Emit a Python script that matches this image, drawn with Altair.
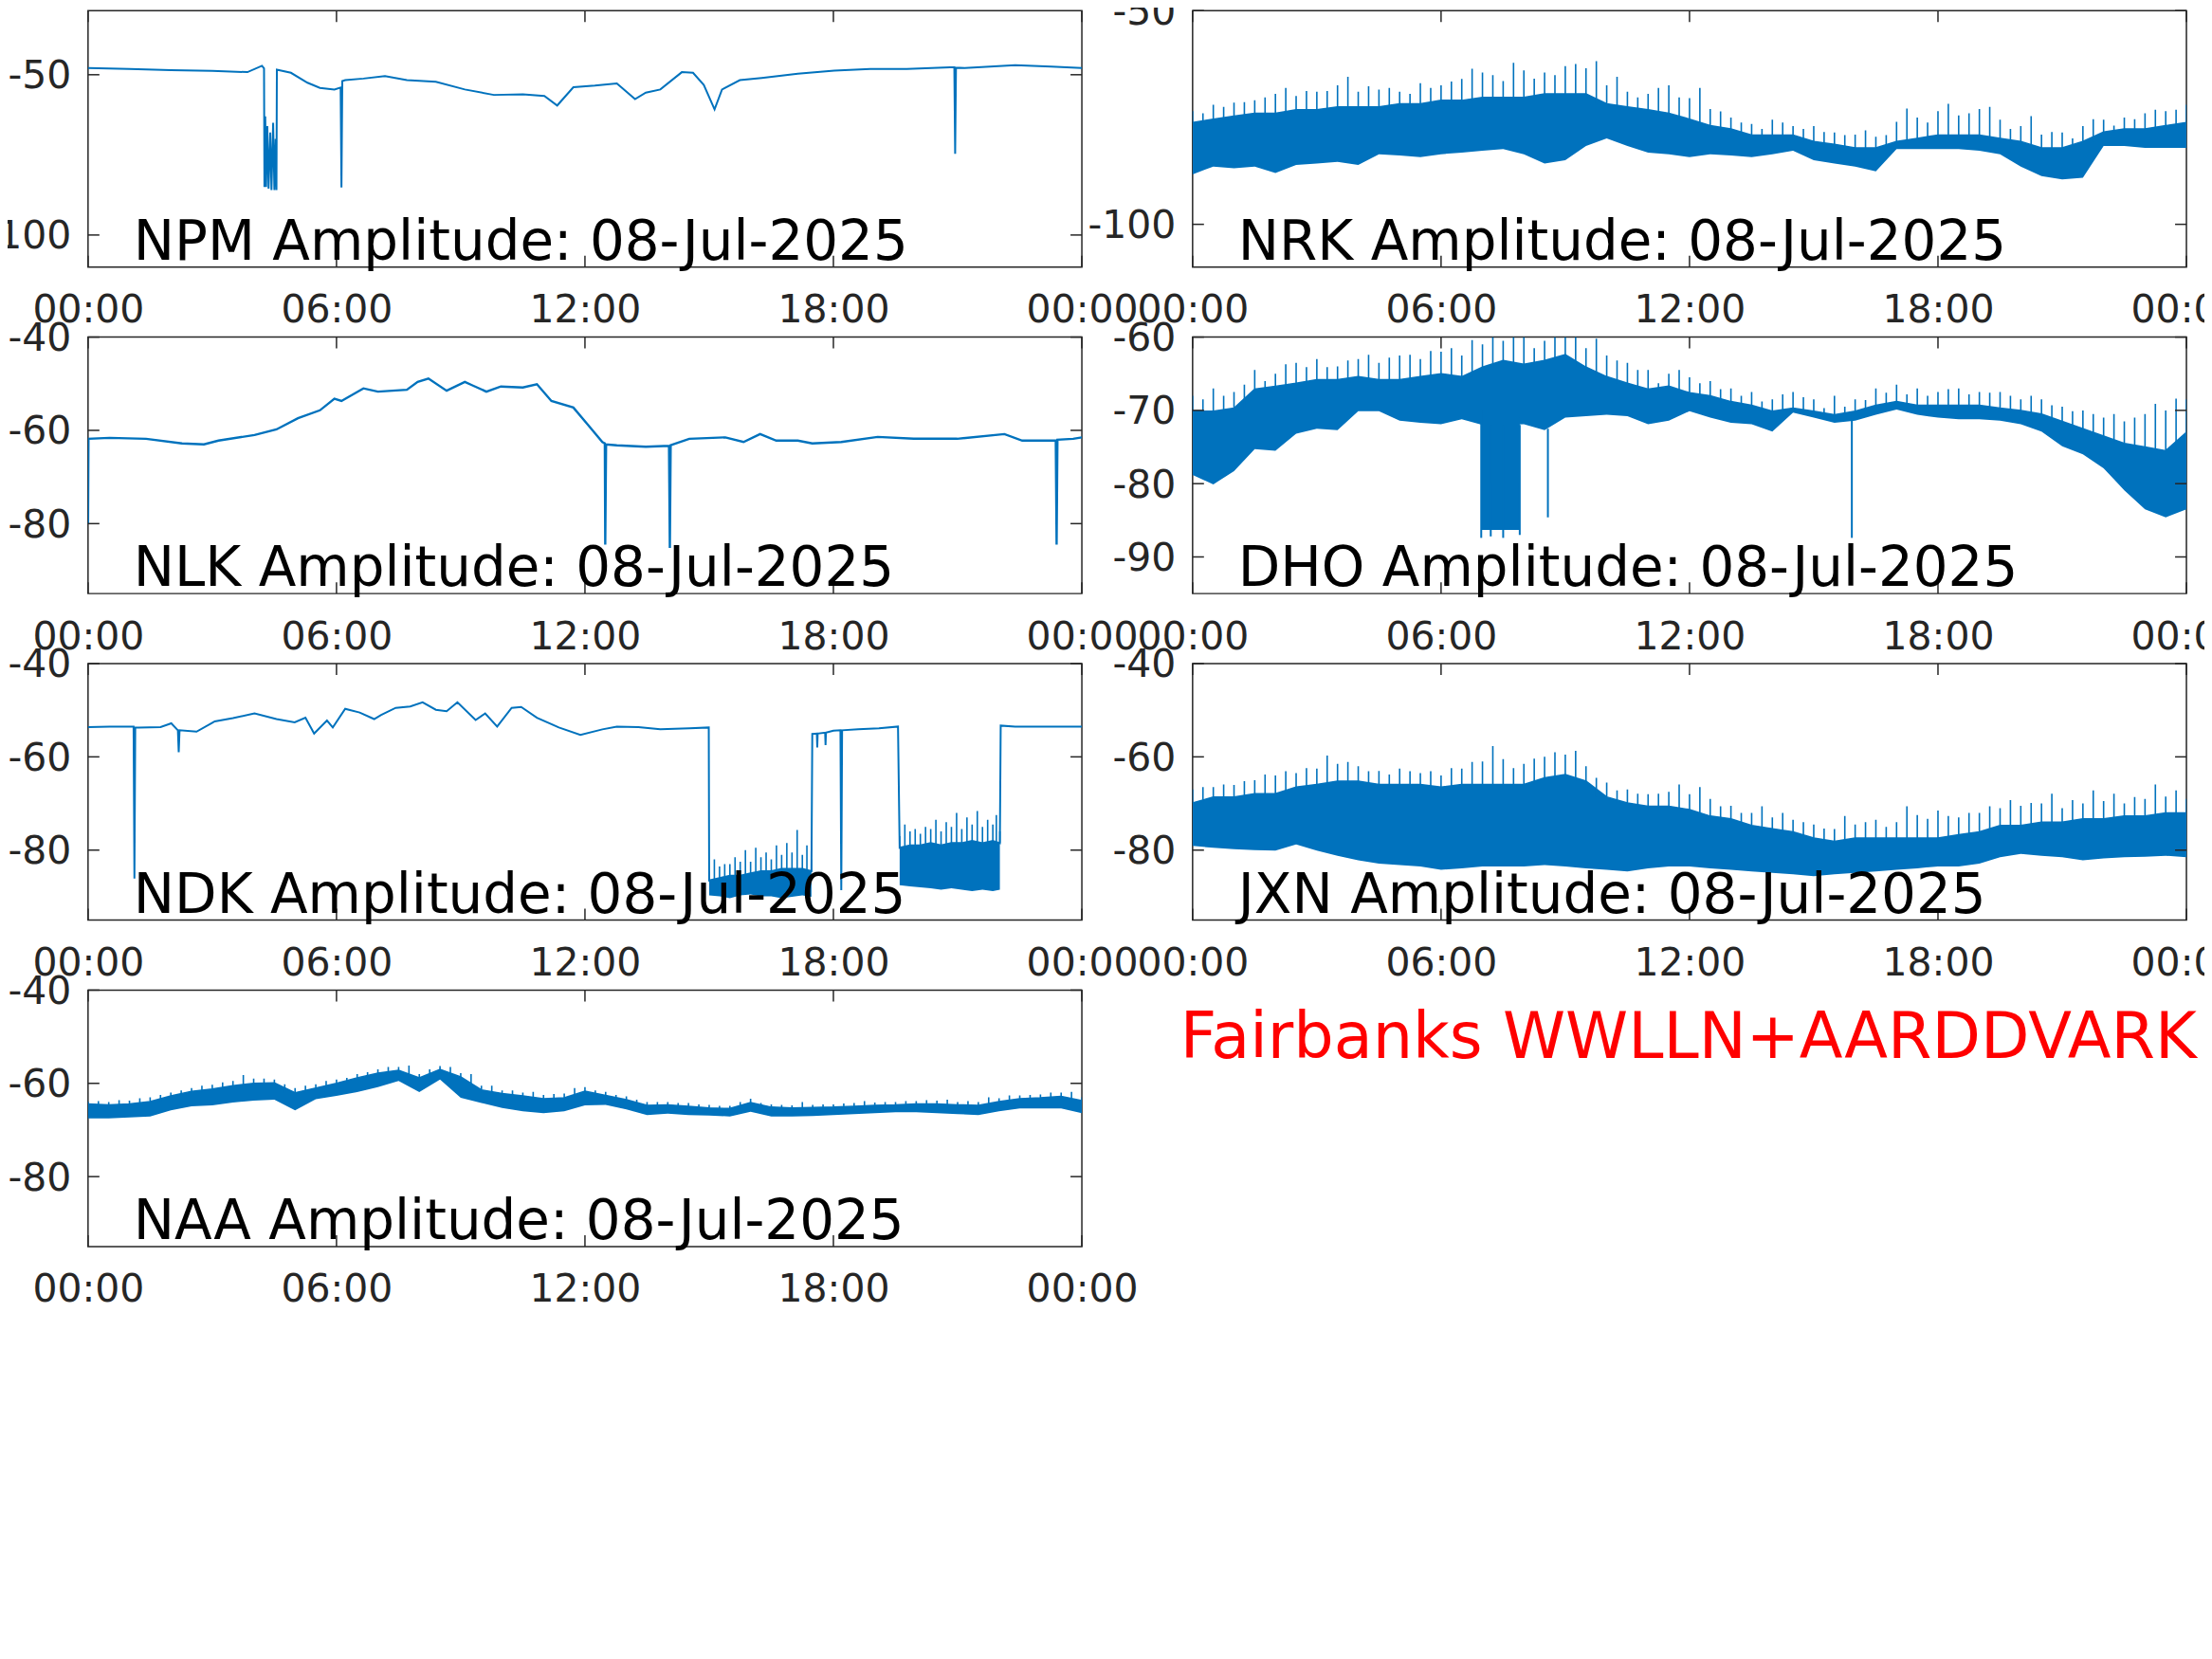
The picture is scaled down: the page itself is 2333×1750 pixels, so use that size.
import altair as alt
import pandas as pd

BLUE = "#0072BD"
INK = "#262626"
FONT = "DejaVu Sans"
W, H = 1050, 271
TICK = 12

tick_hours = [0, 6, 12, 18, 24]
tick_labels = ["00:00", "06:00", "12:00", "18:00", "00:00"]
date_text = "08-Jul-2025"
site_text = "Fairbanks WWLLN+AARDDVARK"

grid_hours = [i / 2 for i in range(49)]

# ---------------- NPM (line) ----------------
npm_ydomain = [-110, -30]
npm_yticks = [-100, -50]
npm_hours = [0, 1, 2, 3, 3.85, 4.2, 4.25, 4.26, 4.28, 4.30, 4.33, 4.36, 4.40, 4.43, 4.47, 4.50,
             4.53, 4.55, 4.56, 4.9, 5.3, 5.6, 5.95, 6.10, 6.12, 6.14, 6.21, 6.65, 7.17, 7.7, 8.4,
             9.1, 9.8, 10.5, 11.02, 11.33, 11.72, 12.24, 12.77, 13.21, 13.47, 13.82, 14.34, 14.61,
             14.87, 15.13, 15.31, 15.74, 16.27, 17.14, 18.02, 18.89, 19.77, 20.82, 20.92, 20.94,
             20.96, 21.17, 22.39, 23.26, 24]
npm_db = [-47.9, -48.2, -48.6, -48.8, -49.2, -47.2, -48.0, -85.0, -63.0, -85.0, -66.0, -85.5,
          -68.0, -86.0, -65.0, -86.0, -70.0, -86.0, -48.4, -49.4, -52.5, -54.1, -54.6, -54.0,
          -85.2, -52.0, -51.7, -51.2, -50.4, -51.7, -52.2, -54.6, -56.3, -56.1, -56.6, -59.6,
          -53.9, -53.4, -52.7, -57.6, -55.6, -54.6, -49.2, -49.4, -53.2, -60.8, -54.6, -51.7,
          -51.0, -49.7, -48.7, -48.2, -48.2, -47.7, -47.7, -74.7, -47.8, -47.9, -47.0, -47.5, -47.9]

# ---------------- NRK (noisy band) ----------------
nrk_ydomain = [-110, -50]
nrk_yticks = [-100, -50]
nrk_low = [-88.3, -86.5, -86.9, -86.5, -88.0, -86.1, -85.8, -85.4, -86.1, -83.6,
           -83.9, -84.3, -83.6, -83.2, -82.8, -82.4, -83.6, -85.8, -85.0, -81.7,
           -79.9, -81.7, -83.2, -83.6, -84.3, -83.6, -83.9, -84.3, -83.6, -82.8,
           -85.0, -85.8, -86.5, -87.6, -82.4, -82.4, -82.4, -82.4, -82.8, -83.6,
           -86.5, -88.7, -89.5, -89.1, -81.7, -81.7, -82.1, -82.1, -82.1]
nrk_core = [-76.2, -75.4, -74.7, -74.0, -74.0, -73.2, -73.2, -72.5, -72.5, -72.5,
            -71.8, -71.8, -71.0, -71.0, -70.3, -70.3, -70.3, -69.5, -69.5, -69.5,
            -71.8, -72.5, -73.2, -74.0, -75.4, -76.9, -77.7, -79.1, -79.1, -79.1,
            -80.6, -81.3, -82.1, -82.1, -80.6, -79.9, -79.1, -79.1, -79.1, -79.9,
            -80.6, -82.1, -82.1, -80.6, -78.4, -77.7, -77.7, -76.9, -76.2]
nrk_peak = [-74.0, -72.5, -71.4, -70.3, -68.1, -68.8, -68.8, -65.5, -67.7, -68.1,
            -69.5, -68.1, -66.6, -63.6, -65.1, -62.2, -65.9, -65.1, -62.5, -61.8,
            -65.5, -70.3, -68.1, -70.3, -68.1, -73.6, -76.2, -77.7, -76.2, -77.7,
            -78.4, -79.1, -78.0, -79.1, -72.9, -76.2, -71.8, -74.0, -72.5, -77.7,
            -74.7, -78.4, -79.9, -75.4, -76.9, -75.4, -73.2, -73.2]
nrk_peak2 = [-73.5, -72.0, -71.5, -71.0, -69.5, -70.0, -69.0, -67.5, -69.0, -68.5,
             -69.0, -67.0, -67.5, -66.0, -64.5, -66.5, -64.0, -64.5, -63.0, -63.5,
             -67.5, -69.0, -69.5, -67.5, -70.5, -73.0, -75.0, -76.5, -75.5, -77.0,
             -77.0, -78.5, -79.0, -79.5, -76.0, -75.0, -73.5, -74.5, -73.0, -75.5,
             -77.0, -79.0, -78.5, -77.0, -75.5, -75.0, -74.0, -73.5, -72.0]

# ---------------- NLK (line) ----------------
nlk_ydomain = [-95, -40]
nlk_yticks = [-80, -60, -40]
nlk_hours = [0, 0.01, 0.52, 1.4, 2.27, 2.8, 3.15, 4.02, 4.55, 5.07,
             5.6, 5.95, 6.12, 6.65, 7.0, 7.7, 7.96, 8.22, 8.66, 9.1,
             9.27, 9.62, 9.97, 10.5, 10.84, 11.19, 11.72, 12.07, 12.42, 12.48,
             12.49, 12.51, 12.77, 13.47, 14.03, 14.05, 14.07, 14.52, 15.39, 15.83,
             16.23, 16.62, 17.14, 17.49, 18.19, 19.07, 19.94, 20.99, 22.13, 22.56,
             23.35, 23.37, 23.39, 23.41, 23.79, 24]
nlk_db = [-80.1, -61.8, -61.6, -61.8, -62.8, -63.0, -62.2, -61.0, -59.8, -57.4,
          -55.7, -53.2, -53.7, -51.0, -51.7, -51.3, -49.6, -48.9, -51.5, -49.6,
          -50.3, -51.7, -50.6, -50.8, -50.1, -53.7, -55.1, -58.8, -62.5, -62.8,
          -84.5, -63.0, -63.2, -63.5, -63.3, -85.2, -63.2, -61.8, -61.5, -62.5,
          -60.8, -62.2, -62.2, -62.8, -62.5, -61.4, -61.8, -61.8, -60.8, -62.2,
          -62.2, -62.2, -84.5, -62.0, -61.8, -61.5]

# ---------------- DHO (noisy band) ----------------
dho_ydomain = [-95, -60]
dho_yticks = [-90, -80, -70, -60]
dho_low = [-78.8, -80.1, -78.3, -75.3, -75.5, -73.2, -72.5, -72.7, -70.1, -70.1,
           -71.4, -71.7, -71.9, -71.2, -72.0, -72.0, -71.9, -72.7, -71.0, -70.8,
           -70.6, -70.8, -71.9, -71.4, -70.1, -71.0, -71.7, -71.9, -72.9, -70.3,
           -71.0, -71.7, -71.4, -70.6, -69.9, -70.6, -71.0, -71.2, -71.2, -71.4,
           -71.9, -72.9, -74.9, -76.0, -77.9, -80.9, -83.5, -84.6, -83.5]
dho_core = [-70.1, -70.1, -69.7, -67.1, -66.7, -66.3, -65.8, -65.8, -65.4, -65.8,
            -65.8, -65.4, -65.0, -65.4, -64.1, -63.2, -63.7, -63.2, -62.4, -64.1,
            -65.4, -66.3, -67.1, -66.7, -67.6, -68.0, -68.8, -69.3, -70.1, -69.7,
            -70.1, -70.6, -70.1, -69.3, -68.8, -69.3, -69.3, -69.3, -69.3, -69.7,
            -70.0, -70.5, -71.5, -72.5, -73.5, -74.5, -75.0, -75.5, -73.0]
dho_peak = [-68.5, -68.0, -66.5, -66.0, -63.7, -64.1, -64.1, -63.2, -62.4, -62.8,
            -62.4, -61.9, -61.5, -60.4, -60.0, -60.0, -61.5, -60.0, -60.0, -60.2,
            -63.2, -64.5, -66.3, -64.5, -66.3, -67.1, -68.0, -68.8, -67.8, -68.2,
            -69.7, -69.5, -68.6, -67.6, -67.8, -68.0, -67.1, -67.8, -67.6, -68.0,
            -68.0, -69.3, -70.1, -70.5, -70.5, -71.0, -69.1, -68.4]
dho_peak2 = [-68.0, -67.0, -67.5, -64.5, -65.0, -63.5, -63.0, -64.0, -63.0, -63.5,
             -62.5, -63.0, -62.0, -62.5, -61.0, -60.5, -60.0, -60.5, -60.0, -61.5,
             -62.5, -63.5, -64.5, -65.0, -65.5, -66.0, -67.0, -67.5, -68.5, -67.5,
             -68.5, -68.0, -68.5, -67.0, -66.5, -67.0, -67.5, -67.0, -67.5, -67.5,
             -68.5, -68.5, -69.5, -70.0, -71.0, -71.5, -70.5, -70.0, -68.5]
dho_drop_hours = [6.97, 7.2, 7.5, 7.9, 8.58, 15.92]
dho_drop_top = [-70.0, -72.0, -72.0, -72.0, -72.5, -70.5]
dho_drop_bottom = [-87.4, -87.2, -87.4, -87.0, -84.6, -87.4]
dho_block_start = [6.97]
dho_block_end = [7.90]
dho_block_top = [-71.0]
dho_block_bottom = [-86.3]

# ---------------- NDK (line with two noisy low segments) ----------------
ndk_ydomain = [-95, -40]
ndk_yticks = [-80, -60, -40]
ndk_hours_a = [0, 0.52, 1.10, 1.12, 1.14, 1.22, 1.75, 2.01, 2.17, 2.19,
               2.21, 2.62, 3.06, 3.5, 4.02, 4.55, 4.99, 5.25, 5.46, 5.77,
               5.91, 6.21, 6.56, 6.91, 7.08, 7.43, 7.78, 8.08, 8.4, 8.66,
               8.92, 9.36, 9.59, 9.88, 10.23, 10.46, 10.84, 11.37, 11.89, 12.42,
               12.77, 13.29, 13.82, 14.52, 14.99]
ndk_db_a = [-53.6, -53.5, -53.5, -86.1, -53.7, -53.7, -53.6, -52.8, -54.3, -59.0,
            -54.3, -54.6, -52.4, -51.7, -50.7, -51.9, -52.6, -51.6, -55.0, -52.2,
            -53.7, -49.7, -50.5, -51.9, -51.0, -49.5, -49.2, -48.3, -49.9, -50.2,
            -48.3, -52.1, -50.7, -53.5, -49.5, -49.3, -51.6, -53.7, -55.3, -54.1,
            -53.5, -53.6, -54.1, -53.9, -53.7]
ndk_b1_hours = [15.0, 15.25, 15.5, 15.75, 16.0, 16.25, 16.5, 16.75, 17.0, 17.25, 17.47]
ndk_b1_low = [-89.7, -89.9, -90.3, -89.7, -89.5, -89.9, -89.9, -90.3, -90.0, -89.7, -90.0]
ndk_b1_core = [-86.5, -86.0, -85.5, -85.5, -85.0, -84.5, -84.5, -84.0, -84.0, -84.0, -84.5]
ndk_b1_peak = [-82.0, -83.0, -81.5, -80.0, -79.5, -80.5, -79.0, -78.5, -75.7, -79.0]
ndk_b1_peak2 = [-84.5, -83.5, -83.0, -82.5, -82.5, -81.5, -82.0, -81.0, -80.5, -81.0, -82.0]
ndk_hours_b = [17.49, 17.6, 17.61, 17.62, 17.8, 17.81, 17.82, 18.0, 18.17, 18.19, 18.21, 18.6, 19.1, 19.56]
ndk_db_b = [-55.1, -55.0, -58.0, -55.0, -54.8, -57.5, -54.8, -54.4, -54.3, -88.6, -54.3, -54.1, -53.9, -53.5]
ndk_b2_hours = [19.6, 19.85, 20.1, 20.35, 20.6, 20.85, 21.1, 21.35, 21.6, 21.85, 22.02]
ndk_b2_low = [-87.5, -87.8, -88.0, -88.2, -88.5, -88.2, -88.5, -88.8, -88.5, -88.8, -88.5]
ndk_b2_core = [-79.5, -79.0, -79.0, -78.5, -79.0, -78.5, -78.5, -78.0, -78.5, -78.0, -78.5]
ndk_b2_peak = [-74.5, -75.5, -75.0, -73.5, -74.0, -72.0, -73.0, -71.6, -73.5, -72.5]
ndk_b2_peak2 = [-77.0, -76.0, -76.5, -75.5, -76.0, -75.0, -75.5, -74.5, -75.0, -74.5, -76.0]
ndk_hours_c = [22.04, 22.39, 23.26, 24]
ndk_db_c = [-53.3, -53.5, -53.5, -53.5]

# ---------------- JXN (noisy band) ----------------
jxn_ydomain = [-95, -40]
jxn_yticks = [-80, -60, -40]
jxn_low = [-79.1, -79.5, -79.8, -80.0, -80.1, -78.8, -80.1, -81.2, -82.2, -82.9,
           -83.2, -83.5, -84.2, -83.9, -83.5, -83.5, -83.5, -83.2, -83.5, -83.9,
           -84.2, -84.6, -83.9, -83.5, -83.5, -83.9, -84.2, -84.6, -84.9, -85.2,
           -85.6, -85.2, -84.9, -84.6, -84.2, -83.9, -83.5, -83.5, -82.9, -81.5,
           -80.8, -81.2, -81.5, -82.2, -81.8, -81.5, -81.4, -81.2, -81.5]
jxn_core = [-69.9, -68.6, -68.6, -67.9, -67.9, -66.5, -65.9, -65.2, -65.2, -65.9,
            -65.9, -65.9, -66.5, -65.9, -65.9, -65.9, -65.9, -64.5, -63.8, -65.2,
            -68.6, -69.9, -70.6, -70.6, -71.3, -72.7, -73.3, -74.7, -75.4, -76.1,
            -77.4, -78.1, -77.4, -77.4, -77.4, -77.4, -77.4, -76.7, -76.1, -74.7,
            -74.7, -74.0, -74.0, -73.3, -73.3, -72.7, -72.7, -72.0, -72.0]
jxn_peak = [-66.5, -65.9, -65.2, -63.8, -63.1, -62.4, -59.7, -61.1, -63.1, -63.8,
            -63.1, -63.1, -62.4, -61.1, -57.7, -62.4, -60.4, -59.0, -58.7, -64.5,
            -67.2, -67.9, -67.9, -65.9, -66.5, -70.6, -72.0, -70.6, -72.0, -74.0,
            -75.4, -72.7, -74.0, -75.0, -70.6, -73.3, -72.7, -72.0, -70.6, -69.3,
            -69.9, -67.9, -69.3, -67.2, -67.9, -68.6, -65.9, -67.2]
jxn_peak2 = [-67.0, -66.5, -66.0, -65.0, -64.0, -63.5, -62.5, -61.5, -62.0, -63.0,
             -62.5, -63.5, -64.0, -62.5, -61.0, -60.5, -61.5, -60.0, -59.5, -62.0,
             -65.5, -67.0, -68.0, -67.5, -68.0, -69.0, -70.5, -72.0, -73.0, -73.5,
             -74.5, -75.5, -74.5, -73.5, -74.0, -72.5, -71.5, -73.0, -72.0, -71.0,
             -70.5, -70.0, -71.0, -70.0, -69.5, -70.0, -69.0, -68.5, -69.0]

# ---------------- NAA (thick noisy line) ----------------
naa_ydomain = [-95, -40]
naa_yticks = [-80, -60, -40]
naa_upper = [-64.4, -64.6, -64.4, -63.9, -62.7, -61.7, -61.2, -60.5, -60.0, -59.9,
             -62.0, -61.0, -60.0, -58.8, -57.8, -57.2, -58.8, -57.0, -58.6, -61.4,
             -62.2, -62.7, -63.3, -63.1, -61.7, -62.6, -63.5, -64.7, -64.6, -64.9,
             -65.3, -65.4, -64.1, -65.1, -65.3, -65.2, -65.1, -64.9, -64.7, -64.6,
             -64.4, -64.4, -64.6, -64.7, -63.9, -63.3, -63.1, -62.8, -63.7]
naa_lower = [-67.5, -67.5, -67.3, -67.1, -65.8, -64.9, -64.7, -64.1, -63.7, -63.5,
             -65.8, -63.4, -62.7, -61.9, -60.8, -59.5, -61.9, -59.2, -63.1, -64.2,
             -65.3, -66.0, -66.4, -66.0, -64.7, -64.6, -65.6, -66.8, -66.5, -66.8,
             -66.9, -67.1, -66.1, -67.1, -67.1, -67.0, -66.8, -66.6, -66.4, -66.2,
             -66.2, -66.4, -66.6, -66.8, -66.0, -65.4, -65.4, -65.4, -66.4]
naa_peak = [-63.8, -63.6, -63.2, -62.5, -61.5, -60.5, -59.8, -58.2, -59.0, -60.2,
            -60.5, -59.5, -58.8, -57.6, -56.5, -56.2, -57.0, -56.5, -58.0, -60.5,
            -61.5, -61.8, -62.3, -61.0, -61.5, -62.5, -63.5, -64.0, -64.2, -64.5,
            -64.8, -64.0, -64.2, -64.6, -64.0, -64.5, -64.3, -63.8, -64.0, -63.8,
            -63.6, -63.5, -63.8, -63.0, -62.6, -62.5, -62.0, -61.8]
naa_peak2 = [-63.9, -64.0, -63.7, -63.0, -62.0, -61.0, -60.3, -59.5, -59.0, -59.2,
             -61.0, -60.2, -59.2, -58.0, -57.0, -56.5, -58.0, -56.3, -57.8, -60.5,
             -61.5, -62.0, -62.5, -62.2, -60.8, -61.8, -62.8, -64.0, -64.0, -64.2,
             -64.6, -64.8, -63.3, -64.5, -64.7, -64.6, -64.5, -64.2, -64.1, -64.0,
             -63.8, -63.7, -64.0, -64.0, -63.2, -62.6, -62.4, -62.0, -63.0]

# ====================== helpers ======================
XSCALE = alt.Scale(domain=[0, 24], nice=False, zero=False)
LABEL_EXPR = ("[" + ",".join(f"'{s}'" for s in tick_labels) + "][indexof(["
              + ",".join(str(h) for h in tick_hours) + "], datum.value)]")


def x_enc(field):
    return alt.X(f"{field}:Q", scale=XSCALE, axis=alt.Axis(
        values=tick_hours, labelExpr=LABEL_EXPR, title=None, grid=False, ticks=False,
        tickSize=0, domain=False, labelPadding=26, labelFlush=False, labelAngle=0,
        labelFont=FONT, labelFontSize=41, labelColor=INK))


def y_enc(field, dom, ticks):
    return alt.Y(f"{field}:Q", scale=alt.Scale(domain=dom, nice=False, zero=False),
                 axis=alt.Axis(values=ticks, labelExpr="'' + datum.value", title=None,
                               grid=False, ticks=False, tickSize=0, domain=False,
                               labelPadding=18, labelOffset=2, labelFlush=False,
                               labelFont=FONT, labelFontSize=41, labelColor=INK))


def line_layer(hours, vals, dom, yt, width=2.0):
    df = pd.DataFrame({"h": hours, "v": vals})
    return alt.Chart(df).mark_line(color=BLUE, strokeWidth=width, clip=True).encode(
        x=x_enc("h"), y=y_enc("v", dom, yt))


def area_layer(hours, low, top, dom, yt):
    df = pd.DataFrame({"h": hours, "lo": low, "hi": top})
    return alt.Chart(df).mark_area(color=BLUE, opacity=1, clip=True).encode(
        x=x_enc("h"), y=y_enc("lo", dom, yt), y2=alt.Y2("hi:Q"))


def rule_layer(hours, lo, hi, dom, yt, width=1.6):
    df = pd.DataFrame({"h": hours, "lo": lo, "hi": hi})
    return alt.Chart(df).mark_rule(color=BLUE, strokeWidth=width, clip=True).encode(
        x=x_enc("h"), y=y_enc("lo", dom, yt), y2=alt.Y2("hi:Q"))


def spike_layer(hours, base, peaks, dom, yt):
    # spikes half-way between samples, rising from the band's top
    mid = [(hours[i] + hours[i + 1]) / 2 for i in range(len(peaks))]
    foot = [min(base[i], base[i + 1]) for i in range(len(peaks))]
    return rule_layer(mid, foot, peaks, dom, yt)


def block_layer(h0, h1, top, bottom, dom, yt):
    df = pd.DataFrame({"h0": h0, "h1": h1, "lo": bottom, "hi": top})
    return alt.Chart(df).mark_rect(color=BLUE, clip=True).encode(
        x=x_enc("h0"), x2=alt.X2("h1:Q"), y=y_enc("lo", dom, yt), y2=alt.Y2("hi:Q"))


def panel(name, dom, yticks, layers):
    xt = pd.DataFrame({"h": tick_hours})
    yt = pd.DataFrame({"v": yticks})
    rule = dict(color=INK, strokeWidth=1.5)
    ticks = [
        alt.Chart(xt).mark_rule(**rule).encode(x=x_enc("h"), y=alt.value(0), y2=alt.value(TICK)),
        alt.Chart(xt).mark_rule(**rule).encode(x=x_enc("h"), y=alt.value(H - TICK), y2=alt.value(H)),
        alt.Chart(yt).mark_rule(**rule).encode(y=y_enc("v", dom, yticks), x=alt.value(0), x2=alt.value(TICK)),
        alt.Chart(yt).mark_rule(**rule).encode(y=y_enc("v", dom, yticks), x=alt.value(W - TICK), x2=alt.value(W)),
    ]
    label = alt.Chart(pd.DataFrame({"t": [f"{name} Amplitude: {date_text}"]})).mark_text(
        align="left", baseline="alphabetic", font=FONT, fontSize=58, color="black"
    ).encode(x=alt.value(48), y=alt.value(H - 8), text="t:N")
    return alt.layer(*layers, *ticks, label).properties(width=W, height=H)


def band_layers(hours, low, core, peak, peak2, dom, yt):
    return [area_layer(hours, low, core, dom, yt),
            line_layer(hours, core, dom, yt, width=1.5),
            rule_layer(hours, core, peak2, dom, yt),
            spike_layer(hours, core, peak, dom, yt)]


# ====================== panels ======================
npm = panel("NPM", npm_ydomain, npm_yticks,
            [line_layer(npm_hours, npm_db, npm_ydomain, npm_yticks)])

nrk = panel("NRK", nrk_ydomain, nrk_yticks,
            band_layers(grid_hours, nrk_low, nrk_core, nrk_peak, nrk_peak2,
                        nrk_ydomain, nrk_yticks))

nlk = panel("NLK", nlk_ydomain, nlk_yticks,
            [line_layer(nlk_hours, nlk_db, nlk_ydomain, nlk_yticks, width=2.4)])

dho = panel("DHO", dho_ydomain, dho_yticks,
            band_layers(grid_hours, dho_low, dho_core, dho_peak, dho_peak2,
                        dho_ydomain, dho_yticks)
            + [block_layer(dho_block_start, dho_block_end, dho_block_top, dho_block_bottom,
                           dho_ydomain, dho_yticks),
               rule_layer(dho_drop_hours, dho_drop_bottom, dho_drop_top, dho_ydomain,
                          dho_yticks, width=2)])

ndk_line_hours = ndk_hours_a + ndk_b1_hours + ndk_hours_b + ndk_b2_hours + ndk_hours_c
ndk_line_db = ndk_db_a + ndk_b1_core + ndk_db_b + ndk_b2_core + ndk_db_c
ndk = panel("NDK", ndk_ydomain, ndk_yticks,
            [area_layer(ndk_b1_hours, ndk_b1_low, ndk_b1_core, ndk_ydomain, ndk_yticks),
             area_layer(ndk_b2_hours, ndk_b2_low, ndk_b2_core, ndk_ydomain, ndk_yticks),
             rule_layer(ndk_b1_hours, ndk_b1_core, ndk_b1_peak2, ndk_ydomain, ndk_yticks),
             rule_layer(ndk_b2_hours, ndk_b2_core, ndk_b2_peak2, ndk_ydomain, ndk_yticks),
             spike_layer(ndk_b1_hours, ndk_b1_core, ndk_b1_peak, ndk_ydomain, ndk_yticks),
             spike_layer(ndk_b2_hours, ndk_b2_core, ndk_b2_peak, ndk_ydomain, ndk_yticks),
             line_layer(ndk_line_hours, ndk_line_db, ndk_ydomain, ndk_yticks)])

jxn = panel("JXN", jxn_ydomain, jxn_yticks,
            band_layers(grid_hours, jxn_low, jxn_core, jxn_peak, jxn_peak2,
                        jxn_ydomain, jxn_yticks))

naa = panel("NAA", naa_ydomain, naa_yticks,
            band_layers(grid_hours, naa_lower, naa_upper, naa_peak, naa_peak2,
                        naa_ydomain, naa_yticks))

note = alt.Chart(pd.DataFrame({"t": [site_text]})).mark_text(
    align="left", baseline="alphabetic", font=FONT, fontSize=67, color="#FF0000"
).encode(x=alt.value(-13), y=alt.value(72), text="t:N").properties(
    width=W, height=H, view=alt.ViewBackground(stroke="transparent"))

chart = alt.concat(npm, nrk, nlk, dho, ndk, jxn, naa, note, columns=2,
                   spacing={"row": 74, "column": 117}, bounds="flush").properties(
    padding={"left": -27, "top": -18, "right": -41, "bottom": 5}
).configure_view(stroke=INK, strokeWidth=1.5)

chart.save("out.html", embed_options={"renderer": "svg", "actions": False})
